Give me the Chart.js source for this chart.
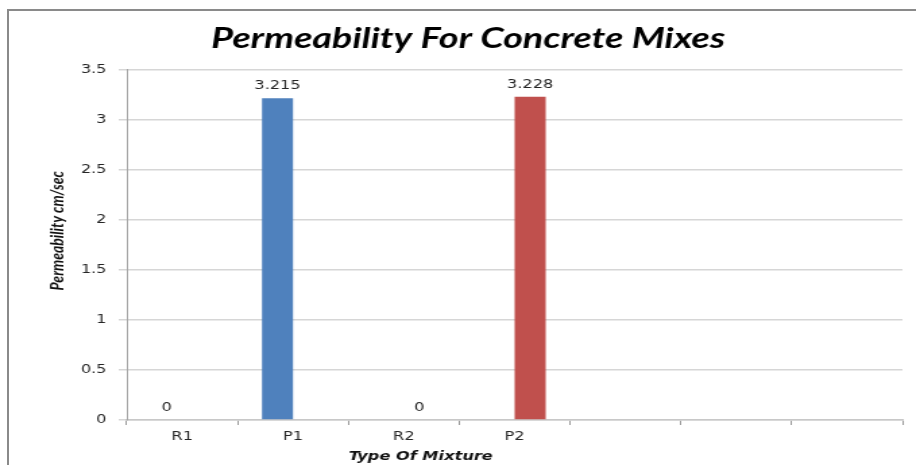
<!DOCTYPE html>
<html lang="en">

<head>
    <meta charset="UTF-8">
    <title>Permeability For Concrete Mixes</title>
    <script src="https://cdn.jsdelivr.net/npm/chart.js"></script>
    <style>
        body { margin: 0; background: #fff; overflow: hidden; }
        #frame {
            position: absolute; left: 7px; top: 9px; width: 960px; height: 500px;
            border-left: 2px solid #8a8a8a; border-top: 2px solid #8a8a8a;
        }
        /* original picture is stretched sideways, so the chart is drawn narrow and scaled */
        #wrap {
            position: absolute; left: 0; top: 0; width: 679px; height: 465px;
            transform: scaleX(1.349); transform-origin: 0 0;
        }
    </style>
</head>

<body>
    <div id="frame"></div>
    <div id="wrap"><canvas id="permChart"></canvas></div>

    <script>
        const mixes = ["R1", "P1", "R2", "P2", "", "", ""];
        const seriesBlue = [0, 3.215, null, null, null, null, null];
        const seriesRed = [null, null, 0, 3.228, null, null, null];
        const yTicks = [0, 0.5, 1, 1.5, 2, 2.5, 3, 3.5];

        // value labels over the bars
        const barLabels = {
            id: "barLabels",
            afterDatasetsDraw(chart) {
                const ctx = chart.ctx;
                ctx.save();
                ctx.font = "12px 'DejaVu Sans'";
                ctx.fillStyle = "#262626";
                ctx.textAlign = "center";
                ctx.textBaseline = "alphabetic";
                chart.data.datasets.forEach((ds, i) => {
                    chart.getDatasetMeta(i).data.forEach((bar, j) => {
                        const v = ds.data[j];
                        if (v === null) return;
                        ctx.fillText(String(v), bar.x, bar.y - 9);
                    });
                });
                ctx.restore();
            }
        };

        // axis titles are placed off-centre in the original, so draw them here
        const axisTitles = {
            id: "axisTitles",
            afterDraw(chart) {
                const a = chart.chartArea;
                const ctx = chart.ctx;
                ctx.save();
                ctx.fillStyle = "#111";
                ctx.textAlign = "center";
                ctx.textBaseline = "middle";
                ctx.font = "italic bold 12px 'DejaVu Sans'";
                ctx.fillText("Type Of Mixture", a.left + (a.right - a.left) * 0.379, 457);

                ctx.translate(42, a.top + (a.bottom - a.top) * 0.46);
                ctx.rotate(-Math.PI / 2);
                ctx.font = "italic bold 14px Lato";
                ctx.fillText("Permeability cm/sec", 0, 0);
                ctx.restore();
            }
        };

        new Chart(document.getElementById("permChart"), {
            type: "bar",
            data: {
                labels: mixes,
                datasets: [
                    { label: "Series1", data: seriesBlue, backgroundColor: "#4f81bd" },
                    { label: "Series2", data: seriesRed, backgroundColor: "#c0504d" }
                ]
            },
            options: {
                responsive: true,
                maintainAspectRatio: false,
                animation: false,
                categoryPercentage: 0.56,
                barPercentage: 1,
                layout: { padding: { left: 25, right: 10, top: 0, bottom: 0 } },
                plugins: {
                    legend: { display: false },
                    tooltip: { enabled: false },
                    title: {
                        display: true,
                        text: "Permeability For Concrete Mixes",
                        color: "#000",
                        font: { family: "Lato", size: 28, style: "italic", weight: "bold", lineHeight: 1.2 },
                        padding: { top: 22, bottom: 14 }
                    }
                },
                scales: {
                    x: {
                        grid: { offset: true, drawOnChartArea: false, color: "#9a9a9a", tickLength: 5, lineWidth: 1 },
                        border: { color: "#c8c8c8", width: 1.5 },
                        ticks: { color: "#262626", font: { family: "DejaVu Sans", size: 12 }, padding: 5 },
                        afterFit: s => { s.height = 45; }
                    },
                    y: {
                        min: 0,
                        max: 3.5,
                        afterBuildTicks: s => { s.ticks = yTicks.map(v => ({ value: v })); },
                        grid: { color: "#d6d6d6", lineWidth: 1.5, tickLength: 6 },
                        border: { color: "#a6a6a6", width: 1 },
                        ticks: {
                            color: "#262626",
                            font: { family: "DejaVu Sans", size: 12 },
                            padding: 9,
                            callback: v => String(v)
                        },
                        afterFit: s => { s.width = 69; }
                    }
                }
            },
            plugins: [barLabels, axisTitles]
        });
    </script>
</body>

</html>
